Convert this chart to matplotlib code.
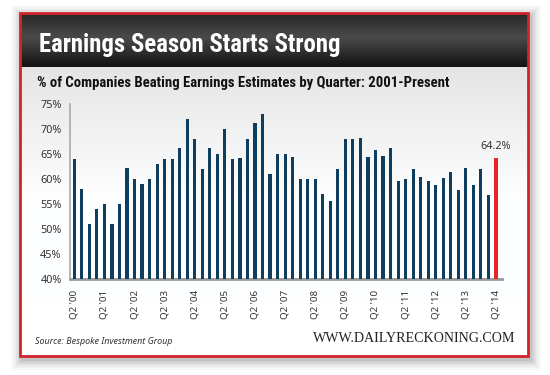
import numpy as np
import matplotlib
matplotlib.use("Agg")
import matplotlib.pyplot as plt
from matplotlib import font_manager
from matplotlib.patches import Rectangle

# data
quarters = ["Q2 '%02d" % y for y in range(0, 15)]
pct_beating = [64, 58, 51, 54, 55.1, 51, 55, 62.2, 60, 59, 60, 63.1, 64, 64, 66.2, 72,
               68, 62, 66.2, 65, 70, 64, 64.2, 68, 71.2, 73, 61, 65, 65, 64.4, 60, 60,
               60, 57, 55.6, 62, 68, 68, 68.2, 64.4, 65.9, 64.6, 66.3, 59.6, 60, 62,
               60.4, 59.6, 58.8, 60.2, 61.4, 57.9, 62.25, 58.8, 62, 56.8, 64.2]
y_ticks = [40, 45, 50, 55, 60, 65, 70, 75]

title = "Earnings Season Starts Strong"
subtitle = "% of Companies Beating Earnings Estimates by Quarter: 2001-Present"
source = "Source: Bespoke Investment Group"
site = "WWW.DAILYRECKONING.COM"

# use a condensed face if one is installed
names = set(f.name for f in font_manager.fontManager.ttflist)
narrow = [n for n in ["Roboto Condensed", "Liberation Sans Narrow", "Open Sans Condensed",
                      "Noto Sans Display", "Roboto", "Liberation Sans"] if n in names]
narrow = narrow[:1] + ["DejaVu Sans"]
plain = ["Noto Sans", "DejaVu Sans"]
W, H = 550, 375

fig = plt.figure(figsize=(5.5, 3.75), dpi=100)
fig.patch.set_facecolor("white")

# background layer in pixel coords
bg = fig.add_axes([0, 0, 1, 1])
bg.set_xlim(0, W)
bg.set_ylim(H, 0)
bg.axis("off")

# soft shadow round the card
for i, a in enumerate(np.linspace(0.05, 0.012, 8)):
    d = 1.5 * (i + 1)
    bg.add_patch(Rectangle((20 - d + 2, 13 - d + 3), 508 + 2 * d, 343 + 2 * d,
                           facecolor="black", alpha=a, edgecolor="none", zorder=0))

# card body with light gradient at the top
body = np.linspace(0, 1, 200).reshape(-1, 1)
body_col = np.clip(0.90 + 0.10 * body * 2.2, 0, 1)
bg.imshow(np.dstack([body_col * 0.995, body_col * 0.997, body_col, np.ones_like(body_col)]),
          extent=[20, 528, 356, 67], aspect="auto", zorder=1)
bg.add_patch(Rectangle((20, 300), 508, 56, facecolor="white", edgecolor="none", zorder=1.5))

# dark header gradient
t = np.linspace(0, 1, 100)
hv = np.interp(t, [0, 0.45, 1], [0.15, 0.29, 0.07]).reshape(-1, 1)
bg.imshow(np.dstack([hv, hv, hv, np.ones_like(hv)]), extent=[20, 528, 67, 13],
          aspect="auto", zorder=2)

# red border
bg.add_patch(Rectangle((20, 13), 508, 343, facecolor="none", edgecolor="#d3242b",
                       linewidth=2, zorder=5))

t_title = bg.text(39, 45, title, color="white", fontsize=20, fontweight="bold",
                  family=narrow, va="center", ha="left", zorder=6)
t_sub = bg.text(37, 83, subtitle, color="#111111", fontsize=10.5, fontweight="bold",
                family=narrow, va="center", ha="left", zorder=6)
t_src = bg.text(35, 341, source, color="#333333", fontsize=6.5, style="italic",
                family=plain, va="center", ha="left", zorder=6)
t_site = bg.text(515, 339, site, color="#222222", fontsize=9.5,
                 family=["Liberation Serif", "DejaVu Serif"], va="center", ha="right", zorder=6)

# main chart
ax = fig.add_axes([70 / W, (H - 279) / H, (501.7 - 70) / W, (279 - 104) / H])
ax.patch.set_alpha(0)
x = np.arange(len(pct_beating))
colors = ["#0e3d5e"] * (len(x) - 1) + ["#e8232a"]
ax.bar(x, pct_beating, width=0.42, color=colors, zorder=3)
ax.set_ylim(40, 75)
ax.set_xlim(-0.57, len(x) - 1 + 0.76)
ax.set_yticks(y_ticks)
ax.set_yticklabels(["%d%%" % v for v in y_ticks])
ax.set_xticks(x[::4])
ax.set_xticklabels(quarters, rotation=90)
ax.tick_params(length=0, labelsize=7.8, colors="#333333", pad=6)
ax.tick_params(axis="x", labelsize=7, pad=8)
for lab in ax.get_xticklabels() + ax.get_yticklabels():
    lab.set_family(plain)
for s in ["top", "right"]:
    ax.spines[s].set_visible(False)
ax.spines["left"].set_color("#aaaaaa")
ax.spines["left"].set_linewidth(1.2)
ax.spines["bottom"].set_color("#999999")
ax.spines["bottom"].set_linewidth(2)
ax.text(x[-1], pct_beating[-1] + 1.2, "%.1f%%" % pct_beating[-1], ha="center",
        va="bottom", fontsize=7.8, color="#333333", family=plain)

# size the header and footer texts to the widths seen in the reference
fig.canvas.draw()
rend = fig.canvas.get_renderer()
for txt, target in [(t_title, 301), (t_sub, 416), (t_src, 138), (t_site, 203)]:
    w = txt.get_window_extent(rend).width
    txt.set_fontsize(txt.get_fontsize() * target / w)

fig.savefig("out.png", dpi=100)
